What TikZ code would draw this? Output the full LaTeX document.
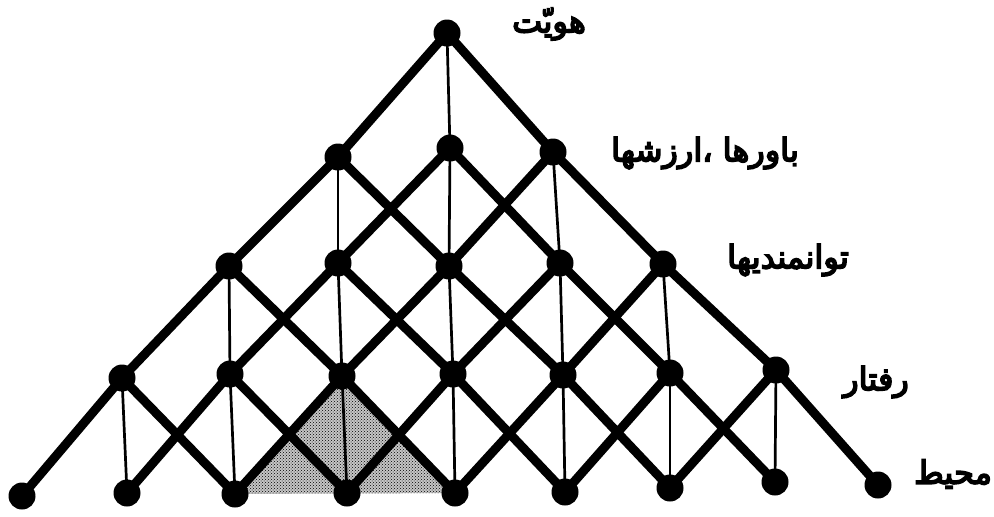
\documentclass[tikz,border=0pt]{standalone}
\usepackage{fontspec}
\usetikzlibrary{patterns}
\TeXXeTstate=1
\newfontfamily\arabicfont[Script=Arabic,FakeBold=5]{DejaVu Sans}
\begin{document}
\begin{tikzpicture}[x=1pt,y=-1pt,
  latdot/.style={circle,fill=black,inner sep=0pt,minimum width=25pt,minimum height=27pt},
  thickline/.style={line width=9pt,line cap=round},
  thinline/.style={line width=2.7pt},
  lab/.style={font=\arabicfont\fontsize{32}{36}\selectfont,inner sep=0pt},
  shade/.style={pattern=crosshatch dots,pattern color=black}]
\useasboundingbox (0,0) rectangle (994,517);
% lattice points
\foreach \r/\c/\x/\y in {0/0/447/33,
  1/0/338/157, 1/1/450/148, 1/2/553/152,
  2/0/229/266, 2/1/338/263, 2/2/449/266, 2/3/560/263, 2/4/663/264,
  3/0/122/378, 3/1/230/374, 3/2/342/376, 3/3/453/374, 3/4/563/375, 3/5/670/373, 3/6/776/370,
  4/0/22/496, 4/1/127/493, 4/2/235/494, 4/3/347/493, 4/4/455/493, 4/5/565/492, 4/6/670/488, 4/7/775/482, 4/8/878/485}
  {\coordinate (p-\r-\c) at (\x,\y);}
% shaded triangle
\fill[gray!45] (p-3-2) -- (p-4-2) -- (p-4-4) -- cycle;
\fill[shade] (p-3-2) -- (p-4-2) -- (p-4-4) -- cycle;
% connectors
\foreach \r in {0,...,3}{
  \pgfmathtruncatemacro\m{2*\r}
  \pgfmathtruncatemacro\rr{\r+1}
  \foreach \c in {0,...,\m}{
    \pgfmathtruncatemacro\ca{\c+1}
    \pgfmathtruncatemacro\cb{\c+2}
    \draw[thinline] (p-\r-\c) -- (p-\rr-\ca);
    \draw[thickline] (p-\r-\c) -- (p-\rr-\c);
    \draw[thickline] (p-\r-\c) -- (p-\rr-\cb);
  }
}
% nodes
\foreach \r/\m in {0/0,1/2,2/4,3/6,4/8}{
  \foreach \c in {0,...,\m}{
    \node[latdot] (n-\r-\c) at (p-\r-\c) {};
  }
}
% labels
\node[lab] (l0) at (549,24) {\beginR هویّت\endR};
\node[lab] (l1) at (705,153) {\beginR باورها ،ارزشها\endR};
\node[lab] (l2) at (788,260) {\beginR توانمندیها\endR};
\node[lab] (l3) at (876,382) {\beginR رفتار\endR};
\node[lab] (l4) at (953,474) {\beginR محیط\endR};
\end{tikzpicture}
\end{document}
